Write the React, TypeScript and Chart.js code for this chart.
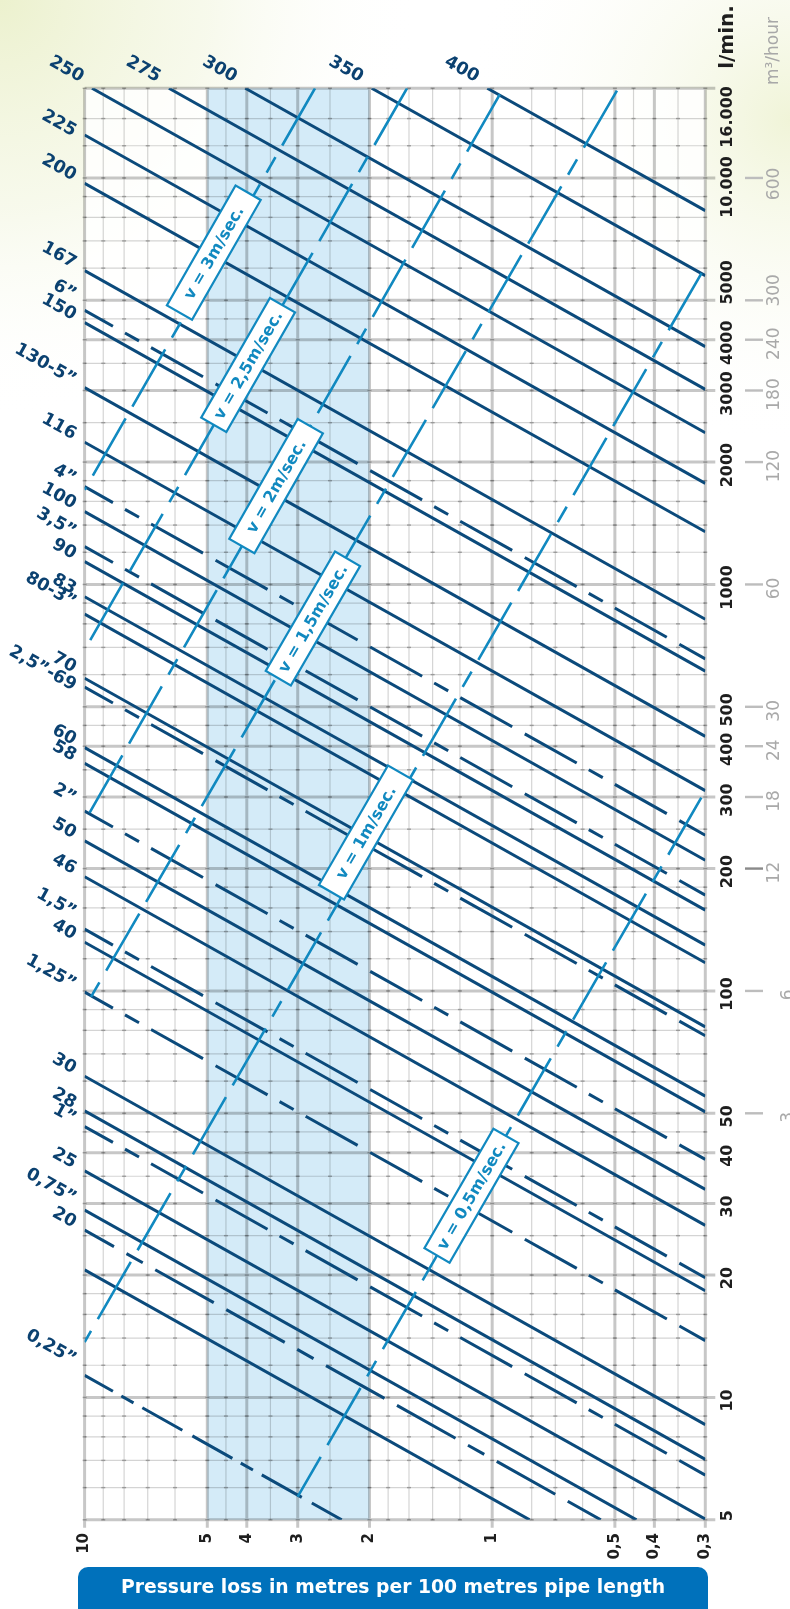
import React, { useEffect, useRef } from 'react';
import { Chart, registerables } from 'chart.js';

Chart.register(...registerables);

const CANVAS_W = 790;
const CANVAS_H = 1609;

// ---- axis ranges (pressure loss, flow l/min) ----
const X_MIN = 0.3;
const X_MAX = 10;
const Y_MIN = 5;
const Y_MAX = 16617;

// ---- grid / tick values ----
const pressureGrid = [10, 9, 8, 7, 6, 5, 4.5, 4, 3.5, 3, 2.5, 2, 1.8, 1.6, 1.4, 1.2, 1, 0.8, 0.7, 0.6, 0.5, 0.45, 0.4, 0.35, 0.3];
const pressureMajor = [10, 5, 4, 3, 2, 1, 0.5, 0.4, 0.3];
const pressureTickLabels = ['10', '5', '4', '3', '2', '1', '0,5', '0,4', '0,3'];

const flowGrid = [5, 6, 7, 8, 9, 10, 12, 14, 16, 18, 20, 25, 30, 35, 40, 45, 50, 60, 70, 80, 90, 100, 120, 140, 160, 180, 200, 250, 300, 350, 400, 450, 500, 600, 700, 800, 900, 1000, 1200, 1400, 1600, 1800, 2000, 2500, 3000, 3500, 4000, 4500, 5000, 6000, 7000, 8000, 9000, 10000, 12000, 14000, 16617];
const flowMajor = [5, 10, 20, 30, 40, 50, 100, 200, 300, 400, 500, 1000, 2000, 3000, 4000, 5000, 10000, 16617];

const flowTickValues = [16000, 10000, 5000, 4000, 3000, 2000, 1000, 500, 400, 300, 200, 100, 50, 40, 30, 20, 10, 5];
const flowTickLabels = ['16.000', '10.000', '5000', '4000', '3000', '2000', '1000', '500', '400', '300', '200', '100', '50', '40', '30', '20', '10', '5'];

const m3TickValues = [10000, 5000, 4000, 3000, 2000, 1000, 500, 400, 300, 200, 100, 50];
const m3TickLabels = ['600', '300', '240', '180', '120', '60', '30', '24', '18', '12', '6', '3'];

// ---- pipe lines (pressure loss S in m/100m, flow Q in l/min) ----
const pipeLabels = ['250', '275', '300', '350', '400', '225', '200', '167', '6”', '150', '130-5”', '116', '4”', '100', '3,5”', '90', '83', '80-3”', '70', '2,5”-69', '60', '58', '2”', '50', '46', '1,5”', '40', '1,25”', '30', '28', '1”', '25', '0,75”', '20', '', '0,25”'];
const pipeKind = ['mm', 'mm', 'mm', 'mm', 'mm', 'mm', 'mm', 'mm', 'inch', 'mm', 'mm', 'mm', 'inch', 'mm', 'inch', 'mm', 'mm', 'mm', 'mm', 'inch', 'mm', 'mm', 'inch', 'mm', 'mm', 'inch', 'mm', 'inch', 'mm', 'mm', 'inch', 'mm', 'mm', 'inch', 'mm', 'inch'];
const pipeStartS = [9.59, 6.21, 4.034, 1.975, 1.028, 10, 10, 10, 10, 10, 10, 10, 10, 10, 10, 10, 10, 10, 10, 10, 10, 10, 10, 10, 10, 10, 10, 10, 10, 10, 10, 10, 10, 10, 10, 10];
const pipeStartQ = [16617, 16617, 16617, 16617, 16617, 12757, 9704, 5916, 4726, 4406, 3049, 2238, 1740, 1511, 1239, 1138, 933, 845, 588, 559, 397, 363, 277, 234, 191, 141.9, 131.8, 99.3, 61.7, 50.7, 46.4, 36.1, 28.9, 25.8, 20.6, 11.33];
const pipeEndS = [0.3, 0.3, 0.3, 0.3, 0.3, 0.3, 0.3, 0.3, 0.3, 0.3, 0.3, 0.3, 0.3, 0.3, 0.3, 0.3, 0.3, 0.3, 0.3, 0.3, 0.3, 0.3, 0.3, 0.3, 0.3, 0.3, 0.3, 0.3, 0.3, 0.3, 0.3, 0.3, 0.4426, 0.5414, 0.8093, 2.34];
const pipeEndQ = [2362, 3018, 3847, 5752, 8309, 1772, 1348, 821, 656, 612, 423, 311, 241.6, 209.7, 172.1, 158, 129.6, 117.3, 81.6, 77.6, 55.1, 50.4, 38.5, 32.5, 26.5, 19.7, 18.3, 13.8, 8.57, 7.04, 6.44, 5.02, 5, 5, 5, 5];

// ---- velocity lines ----
const velocityLabels = ['3', '2,5', '2', '1,5', '1', '0,5'];
const velStartS = [10, 10, 9.727, 9.645, 10, 3.0];
const velStartQ = [1708, 690.2, 274.1, 96.7, 13.69, 5.7];
const velEndS = [2.721, 1.618, 0.9392, 0.4905, 0.3, 0.3];
const velEndQ = [16617, 16617, 16617, 16617, 6051, 311];
const velBoxS = [4.68, 3.97, 3.39, 2.78, 1.933, 1.124];

// ---- styles ----
const NAVY = '#0b4a7b';
const NAVY_TEXT = '#0b4170';
const CYAN = '#1189c0';
const BAND = '#d4ebf8';
const STD_DASH = [59.6, 13.8, 16.1, 13.8, 59.6, 14.4];
const specialDash: Record<string, { dash: number[]; offset: number }> = {
  '20': { dash: [67.1, 14.3, 18.7, 14.3, 67.1, 14.3], offset: 33.4 },
  '0,25”': { dash: [45.9, 9.6, 14.0, 10.1, 45.9, 11.5], offset: 13.4 },
};
const VEL_DASH = [17.8, 13.5, 66, 13.5, 66, 13.5];
const velDashOffset = [14.8, 20, 31, 1, 4.9, 51.3];
const velBoxShift = [6, 0, 0, -2, 11, 0];
const labelNudge: Record<string, number> = {
  '6”': -8, '3,5”': -7, '1,5”': -9, '2”': -5, '0,25”': -8, '0,75”': -4, '80-3”': -4, '70': -3, '2,5”-69': 6, '225': 4,
};
const flowLabelNudge: Record<string, number> = { '16.000': 22, '10.000': 9, '5000': -18, '4000': 3, '5': -4 };
const m3LabelNudge: Record<string, number> = { '600': 6, '300': -10, '240': 4 };

const FONT = '"DejaVu Sans", "Open Sans", sans-serif';

const nomogramPlugin = {
  id: 'nomogram',
  beforeDraw(chart: any) {
    const { ctx, chartArea: a, scales } = chart;
    const xs = scales.x;
    const ys = scales.y;
    ctx.save();
    ctx.fillStyle = '#ffffff';
    ctx.fillRect(0, 0, CANVAS_W, CANVAS_H);
    let g = ctx.createRadialGradient(0, 0, 0, 0, 0, 420);
    g.addColorStop(0, 'rgba(236,241,206,1)');
    g.addColorStop(0.5, 'rgba(244,247,228,0.7)');
    g.addColorStop(1, 'rgba(255,255,255,0)');
    ctx.fillStyle = g;
    ctx.fillRect(0, 0, CANVAS_W, CANVAS_H);
    g = ctx.createRadialGradient(790, 120, 0, 790, 120, 330);
    g.addColorStop(0, 'rgba(240,244,216,1)');
    g.addColorStop(1, 'rgba(255,255,255,0)');
    ctx.fillStyle = g;
    ctx.fillRect(0, 0, CANVAS_W, CANVAS_H);

    // plot area
    ctx.fillStyle = 'rgba(255,255,255,0.82)';
    ctx.fillRect(a.left, a.top, a.right - a.left, a.bottom - a.top);
    const b1 = xs.getPixelForValue(5);
    const b2 = xs.getPixelForValue(2);
    ctx.fillStyle = BAND;
    ctx.fillRect(b1, a.top, b2 - b1, a.bottom - a.top);

    // minor grid
    ctx.lineWidth = 1.2;
    ctx.strokeStyle = 'rgba(0,0,0,0.17)';
    ctx.beginPath();
    pressureGrid.forEach((v) => {
      if (pressureMajor.includes(v)) return;
      const px = xs.getPixelForValue(v);
      ctx.moveTo(px, a.top); ctx.lineTo(px, a.bottom);
    });
    flowGrid.forEach((v) => {
      if (flowMajor.includes(v)) return;
      const py = ys.getPixelForValue(v);
      ctx.moveTo(a.left, py); ctx.lineTo(a.right, py);
    });
    ctx.stroke();
    // major grid
    ctx.lineWidth = 3;
    ctx.strokeStyle = 'rgba(0,0,0,0.22)';
    ctx.beginPath();
    pressureMajor.forEach((v) => {
      const px = xs.getPixelForValue(v);
      ctx.moveTo(px, a.top); ctx.lineTo(px, a.bottom + 8);
    });
    flowMajor.forEach((v) => {
      const py = ys.getPixelForValue(v);
      ctx.moveTo(a.left, py); ctx.lineTo(a.right + 10, py);
    });
    ctx.stroke();
    // intersection marks
    ctx.fillStyle = 'rgba(0,0,0,0.28)';
    pressureGrid.forEach((v) => {
      const px = xs.getPixelForValue(v);
      flowGrid.forEach((q) => {
        const py = ys.getPixelForValue(q);
        ctx.fillRect(px - 2, py - 0.75, 4, 1.5);
      });
    });
    ctx.restore();
  },
  afterDatasetsDraw(chart: any) {
    const { ctx, scales } = chart;
    const xs = scales.x;
    const ys = scales.y;
    ctx.save();

    // velocity label boxes
    velocityLabels.forEach((lab, i) => {
      const x1 = xs.getPixelForValue(velStartS[i]);
      const y1 = ys.getPixelForValue(velStartQ[i]);
      const x2 = xs.getPixelForValue(velEndS[i]);
      const y2 = ys.getPixelForValue(velEndQ[i]);
      const bx = xs.getPixelForValue(velBoxS[i]);
      const t = (bx - x1) / (x2 - x1);
      const by = y1 + t * (y2 - y1);
      const ang = Math.atan2(y2 - y1, x2 - x1);
      const dx = Math.cos(ang);
      const dy = Math.sin(ang);
      const cx = bx + velBoxShift[i] * dy;
      const cy = by - velBoxShift[i] * dx;
      const text = `v = ${lab}m/sec.`;
      ctx.font = `bold 16px ${FONT}`;
      const len = 138;
      const hgt = 29;
      ctx.save();
      ctx.translate(cx, cy);
      ctx.rotate(ang);
      ctx.fillStyle = '#ffffff';
      ctx.fillRect(-len / 2, -hgt / 2, len, hgt);
      ctx.lineWidth = 2.2;
      ctx.strokeStyle = CYAN;
      ctx.strokeRect(-len / 2, -hgt / 2, len, hgt);
      ctx.fillStyle = CYAN;
      ctx.textAlign = 'center';
      ctx.textBaseline = 'middle';
      ctx.fillText(text, 0, 1);
      ctx.restore();
    });

    // pipe labels
    ctx.font = `bold 17.5px ${FONT}`;
    ctx.fillStyle = NAVY_TEXT;
    pipeLabels.forEach((lab, i) => {
      if (!lab) return;
      const sx = xs.getPixelForValue(pipeStartS[i]);
      const sy = ys.getPixelForValue(pipeStartQ[i]);
      const ex = xs.getPixelForValue(pipeEndS[i]);
      const ey = ys.getPixelForValue(pipeEndQ[i]);
      const ang = Math.atan2(ey - sy, ex - sx);
      const fromTop = pipeStartQ[i] >= Y_MAX;
      const ax = sx - 12;
      const ay = sy + (fromTop ? -6 : -2.5) + (labelNudge[lab] || 0);
      ctx.save();
      ctx.translate(ax, ay);
      ctx.rotate(ang);
      ctx.textAlign = 'right';
      ctx.textBaseline = 'alphabetic';
      ctx.fillText(lab, 0, 0);
      ctx.restore();
    });

    // right axis (l/min)
    ctx.fillStyle = '#1e1e1e';
    ctx.font = `bold 16px ${FONT}`;
    flowTickValues.forEach((v, i) => {
      const lab = flowTickLabels[i];
      const py = ys.getPixelForValue(v) + (flowLabelNudge[lab] ?? 3);
      ctx.save();
      ctx.translate(727.5, py);
      ctx.rotate(-Math.PI / 2);
      ctx.textAlign = 'center';
      ctx.textBaseline = 'middle';
      ctx.fillText(lab, 0, 0);
      ctx.restore();
    });

    // m3/hour axis
    ctx.font = `17px ${FONT}`;
    m3TickValues.forEach((v, i) => {
      const lab = m3TickLabels[i];
      const py = ys.getPixelForValue(v);
      ctx.fillStyle = lab === '12' ? '#8a8a8a' : '#bdbdbd';
      ctx.fillRect(745, py - 1.2, 18, 2.4);
      ctx.fillStyle = '#a9a9a9';
      ctx.save();
      ctx.translate(lab.length === 1 ? 789 : 775, py + (m3LabelNudge[lab] ?? 4));
      ctx.rotate(-Math.PI / 2);
      ctx.textAlign = 'center';
      ctx.textBaseline = 'middle';
      ctx.fillText(lab, 0, 0);
      ctx.restore();
    });

    // titles
    ctx.save();
    ctx.translate(728, 37);
    ctx.rotate(-Math.PI / 2);
    ctx.fillStyle = '#1e1e1e';
    ctx.font = `bold 20px ${FONT}`;
    ctx.textAlign = 'center';
    ctx.textBaseline = 'middle';
    ctx.fillText('l/min.', 0, 0);
    ctx.restore();
    ctx.save();
    ctx.translate(774, 51);
    ctx.rotate(-Math.PI / 2);
    ctx.fillStyle = '#a8a8a8';
    ctx.font = `17px ${FONT}`;
    ctx.textAlign = 'center';
    ctx.textBaseline = 'middle';
    ctx.fillText('m³/hour', 0, 0);
    ctx.restore();

    // bottom axis labels
    ctx.fillStyle = '#1e1e1e';
    ctx.font = `bold 15px ${FONT}`;
    pressureMajor.forEach((v, i) => {
      const px = xs.getPixelForValue(v);
      ctx.save();
      ctx.translate(px, 1533);
      ctx.rotate(-Math.PI / 2);
      ctx.textAlign = 'right';
      ctx.textBaseline = 'middle';
      ctx.fillText(pressureTickLabels[i], 0, 0);
      ctx.restore();
    });

    // caption box
    ctx.fillStyle = '#0071bb';
    ctx.beginPath();
    ctx.roundRect(78, 1567, 630, 60, 10);
    ctx.fill();
    const cap = 'Pressure loss in metres per 100 metres pipe length';
    let fs = 18;
    ctx.font = `bold ${fs}px ${FONT}`;
    const w = ctx.measureText(cap).width;
    fs = Math.min(19, (fs * 544) / w);
    ctx.font = `bold ${fs.toFixed(2)}px ${FONT}`;
    ctx.fillStyle = '#ffffff';
    ctx.textAlign = 'center';
    ctx.textBaseline = 'middle';
    ctx.fillText(cap, 393, 1588);
    ctx.restore();
  },
};

export default function App() {
  const ref = useRef<HTMLCanvasElement>(null);
  useEffect(() => {
    const canvas = ref.current;
    if (!canvas) return;
    const datasets: any[] = [];
    velocityLabels.forEach((lab, i) => {
      datasets.push({
        label: `v=${lab}`,
        data: [
          { x: velStartS[i], y: velStartQ[i] },
          { x: velEndS[i], y: velEndQ[i] },
        ],
        borderColor: CYAN,
        borderWidth: 2.6,
        borderDash: VEL_DASH,
        borderDashOffset: velDashOffset[i],
        pointRadius: 0,
        fill: false,
        tension: 0,
        clip: 0,
      });
    });
    pipeLabels.forEach((lab, i) => {
      const dashed = pipeKind[i] === 'inch';
      const sp = specialDash[lab];
      datasets.push({
        label: lab || 'pipe',
        data: [
          { x: pipeStartS[i], y: pipeStartQ[i] },
          { x: pipeEndS[i], y: pipeEndQ[i] },
        ],
        borderColor: NAVY,
        borderWidth: 3,
        borderDash: dashed ? (sp ? sp.dash : STD_DASH) : [],
        borderDashOffset: dashed ? (sp ? sp.offset : 27.1) : 0,
        borderCapStyle: 'butt',
        pointRadius: 0,
        fill: false,
        tension: 0,
        clip: 0,
      });
    });
    const chart = new Chart(canvas, {
      type: 'line',
      data: { datasets },
      options: {
        animation: false,
        responsive: false,
        devicePixelRatio: 1,
        events: [],
        layout: { padding: { left: 84.6, right: 84.7, top: 88.3, bottom: 89.2 } },
        scales: {
          x: { type: 'logarithmic', min: X_MIN, max: X_MAX, reverse: true, display: false },
          y: { type: 'logarithmic', min: Y_MIN, max: Y_MAX, display: false },
        },
        plugins: { legend: { display: false }, tooltip: { enabled: false } },
      },
      plugins: [nomogramPlugin],
    } as any);
    return () => chart.destroy();
  }, []);
  return (
    <div style={{ position: 'absolute', left: 0, top: 0, width: CANVAS_W, height: CANVAS_H, overflow: 'hidden' }}>
      <canvas ref={ref} width={CANVAS_W} height={CANVAS_H} style={{ display: 'block' }} />
    </div>
  );
}
